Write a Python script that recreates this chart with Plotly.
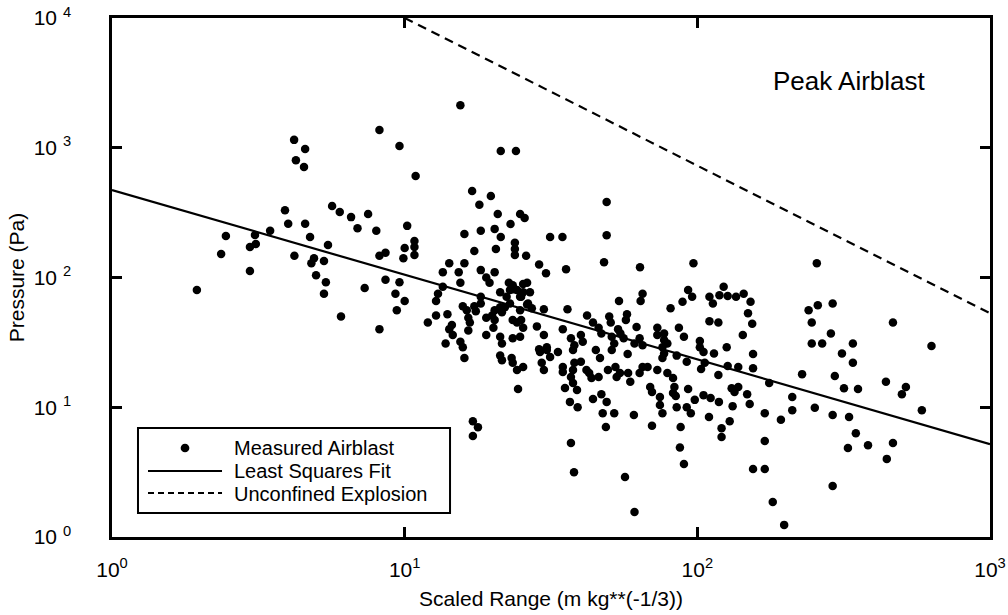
import plotly.graph_objects as go

# ---------------- data ----------------
# Measured airblast: scaled range (m kg^-1/3) and peak pressure (Pa), grouped by region
range_a = [8.2, 9.6, 4.19, 4.57, 4.25, 4.53, 3.9, 4.0, 4.57, 4.75, 3.47, 3.08, 3.1, 2.96, 2.45, 2.36,
           2.96, 1.95, 4.2, 4.9, 4.8, 5.3, 5.47, 4.98, 5.38, 5.3, 6.06, 5.65, 6.0, 6.56, 6.9, 7.5,
           8.0, 8.2, 8.6, 7.3, 8.6, 9.6, 9.3, 10.0, 9.4, 8.2]
press_a = [1370, 1030, 1150, 980, 800, 710, 330, 260, 260, 205, 229, 213, 181, 172, 209, 152,
           112, 80, 147, 141, 129, 134, 178, 104, 92, 75, 50, 355, 320, 292, 240, 309,
           229, 147, 155, 83, 96, 92, 75, 66, 56, 40]

range_b = [15.5, 10.9, 21.3, 24.0, 17.0, 19.7, 18.0, 20.8, 23.0, 24.8, 25.7, 10.2, 16.0, 18.2, 20.3,
           21.3, 10.8, 10.8, 10.8, 10.0, 9.9, 17.3, 20.5, 23.8, 23.8, 23.8, 26.0, 28.8, 30.4, 31.4,
           14.2, 16.0, 13.5, 15.3, 18.2, 20.3, 19.0]
press_b = [2130, 605, 944, 944, 464, 425, 363, 309, 258, 309, 288, 250, 216, 229, 237,
           205, 191, 172, 149, 169, 141, 160, 166, 185, 166, 149, 147, 126, 108, 205,
           129, 129, 110, 110, 114, 110, 100]

range_c = [15.5, 19.5, 21.2, 22.7, 23.6, 25.4, 26.8, 25.0, 26.2, 13.5, 13.0, 12.8, 12.0, 12.8, 14.0,
           14.5, 14.2, 15.8, 16.3, 16.5, 16.7, 17.3, 17.5, 18.2, 18.2, 19.0, 19.9, 20.3, 20.1, 20.3,
           21.2, 21.5, 22.0, 22.9, 22.3, 22.9, 23.4, 24.2, 24.8, 25.4, 26.2, 26.4, 27.2, 24.8, 23.4,
           24.2, 25.0, 25.4, 28.3, 29.9]
press_c = [91, 91, 77, 91, 81, 89, 77, 71, 62, 85, 75, 66, 45, 51, 52,
           43, 40, 60, 56, 49, 45, 60, 55, 71, 63, 49, 51, 47, 41, 56,
           59, 54, 59, 63, 71, 80, 87, 80, 71, 77, 91, 63, 58, 56, 47,
           45, 47, 41, 42, 57]

range_d = [14.6, 13.8, 15.5, 15.8, 16.0, 16.5, 19.0, 21.2, 21.5, 21.2, 21.5, 23.2, 23.4, 24.2, 25.4,
           24.4, 17.1, 17.8, 17.1, 24.8, 23.4, 29.9, 30.6, 28.8, 29.4, 29.9]
press_d = [36, 31, 32, 29, 24, 39, 36, 35, 31, 25, 23, 24, 22, 19.4, 20.4,
           13.8, 7.8, 7.0, 6.0, 35, 34, 36, 29, 28, 22, 19.4]

range_e = [49, 49, 48, 34.6, 35.6, 63.7, 65, 64, 54, 36, 42, 44, 46, 47, 50, 50.6, 57.5, 57, 62, 53.6,
           54.6, 56, 51, 52, 51, 63.5, 65, 61, 73, 77, 73, 77, 79, 76, 77, 76, 81, 89, 96, 93,
           86.5, 90, 92, 85]
press_e = [382, 212, 131, 205, 116, 120, 75, 66, 66, 57, 51, 45, 41, 37, 50, 45, 52, 47, 41.6, 40,
           37, 34, 35, 31, 27.6, 34, 30, 31, 41, 37, 36, 33, 31, 29, 26, 24, 58, 65, 71, 80,
           41, 35, 22.4, 25]

range_f = [34.7, 37, 38, 37.6, 40, 40.6, 30.6, 31.4, 29, 33.4, 45, 46.5, 57.8, 65, 63.5, 67.6, 34.7,
           34.7, 38, 37.6, 37, 40, 41.8, 43.5, 42.7, 46, 49.5, 52.5, 54.4, 53, 58, 59, 69, 70,
           74.5, 74.5, 73, 79, 82.6, 83.5, 82.6, 84.4, 35.3, 36.7, 39, 37.6, 38.8, 44, 47, 49,
           47.5, 52, 60.7, 48.7, 70, 85, 87.7, 87.2, 90, 37, 37.9, 56.6, 93, 92, 61, 76]
press_f = [40, 34, 30, 27.6, 36, 32, 27.6, 24.4, 26.7, 26.7, 27.6, 24, 25.7, 20.4, 18.4, 20.4, 20.4,
           18.7, 22, 19.4, 17.1, 22.4, 19.4, 16.8, 18.4, 17.1, 19.4, 20.4, 18.4, 17.1, 18.4, 15.7, 14.3, 13.1,
           12, 10.4, 19.4, 18.4, 16.8, 14.3, 12.9, 12.2, 14.1, 11, 10, 15.4, 13.6, 11.6, 12.6, 11,
           9, 9, 8.7, 7.05, 7.2, 10, 7.05, 4.9, 3.65, 5.3, 3.16, 2.9, 13.8, 10, 1.56, 9]

range_g = [97, 256, 110, 113, 123, 119, 127, 135.6, 144, 152, 149, 154, 143, 110, 118, 102, 102, 105,
           114, 126, 155, 155, 103, 106, 118, 127, 138, 176, 228, 295, 98, 105, 111, 118.5, 131, 138,
           134, 148, 151, 95, 109.6, 132, 129, 121, 121, 170, 193, 211, 211, 252, 170, 155, 170, 290,
           240, 258, 246, 246, 267, 286, 290]
press_g = [129, 129, 71, 63, 85, 73, 72, 71, 75, 65, 53, 44, 36, 46, 45, 32.4, 29, 26.7,
           26, 29, 25.7, 20, 19.7, 22, 17.7, 20.8, 20.4, 15.4, 18, 17.4, 11.4, 12.4, 11.8, 11, 14, 14.3,
           13.1, 12.6, 10.6, 9, 8.4, 10.2, 7.8, 6.9, 5.9, 9, 8, 12, 9.5, 9.9, 5.5, 3.34, 3.34, 8.7,
           56, 61, 45, 31, 31, 37, 63]

range_h = [466, 340, 312, 340, 317, 354, 441, 516, 500, 631, 585, 330, 348, 327, 383, 466, 444, 290, 181, 198]
press_h = [45, 31, 26, 22, 14, 13.8, 15.7, 14.3, 12.6, 29.7, 9.5, 8.4, 6.3, 4.85, 5.1, 5.3, 4.0, 2.47, 1.86, 1.24]

# Least squares fit line (end points)
fit_range = [1, 1000]
fit_press = [472, 5.2]

# Unconfined explosion line (end points)
unconf_range = [10, 1000]
unconf_press = [10000, 53]

x_tick_vals = [1, 10, 100, 1000]
x_tick_text = ["10<sup>0</sup>", "10<sup>1</sup>", "10<sup>2</sup>", "10<sup>3</sup>"]
y_tick_vals = [1, 10, 100, 1000, 10000]
y_tick_text = ["10 <sup>0</sup>", "10 <sup>1</sup>", "10 <sup>2</sup>", "10 <sup>3</sup>", "10 <sup>4</sup>"]

legend_labels = ["Measured Airblast", "Least Squares Fit", "Unconfined Explosion"]

# ---------------- figure ----------------
meas_x = range_a + range_b + range_c + range_d + range_e + range_f + range_g + range_h
meas_y = press_a + press_b + press_c + press_d + press_e + press_f + press_g + press_h

FONT = "Arial, Liberation Sans, Helvetica, sans-serif"

fig = go.Figure()
fig.add_trace(go.Scatter(x=meas_x, y=meas_y, mode="markers", name=legend_labels[0],
                         marker=dict(color="black", size=8.5, line=dict(width=0)), showlegend=False))
fig.add_trace(go.Scatter(x=fit_range, y=fit_press, mode="lines", name=legend_labels[1],
                         line=dict(color="black", width=2.2), showlegend=False))
fig.add_trace(go.Scatter(x=unconf_range, y=unconf_press, mode="lines", name=legend_labels[2],
                         line=dict(color="black", width=2.2, dash="9px,6px"), showlegend=False))

axis_common = dict(type="log", showline=True, linecolor="black", linewidth=2.5, mirror="ticks",
                   ticks="inside", ticklen=10, tickwidth=2.5, tickcolor="black",
                   showgrid=False, zeroline=False, automargin=False,
                   tickfont=dict(family=FONT, size=21, color="black"))

fig.update_xaxes(range=[0, 3], tickvals=x_tick_vals, ticktext=x_tick_text,
                 ticklabelstandoff=12,
                 title=dict(text="Scaled Range (m kg**(-1/3))", font=dict(family=FONT, size=21, color="black"),
                            standoff=12),
                 **axis_common)
fig.update_yaxes(range=[0, 4], tickvals=y_tick_vals, ticktext=y_tick_text,
                 ticklabelstandoff=34,
                 title=dict(text="Pressure (Pa)", font=dict(family=FONT, size=21, color="black"),
                            standoff=4),
                 **axis_common)

# custom legend box (paper coordinates)
shapes = [
    dict(type="rect", xref="paper", yref="paper", x0=0.0296, x1=0.385, y0=0.0462, y1=0.21,
         line=dict(color="black", width=2), fillcolor="white", layer="above"),
    dict(type="circle", xref="paper", yref="paper", x0=0.0782, x1=0.0881, y0=0.1633, y1=0.1798,
         line=dict(color="black", width=0), fillcolor="black", layer="above"),
    dict(type="line", xref="paper", yref="paper", x0=0.041, x1=0.1253, y0=0.1272, y1=0.1272,
         line=dict(color="black", width=2), layer="above"),
    dict(type="line", xref="paper", yref="paper", x0=0.041, x1=0.1253, y0=0.0848, y1=0.0848,
         line=dict(color="black", width=2, dash="6px,4px"), layer="above"),
]
annotations = [
    dict(text=legend_labels[0], xref="paper", yref="paper", x=0.1367, y=0.1716, xanchor="left",
         yanchor="middle", showarrow=False, font=dict(family=FONT, size=20, color="black")),
    dict(text=legend_labels[1], xref="paper", yref="paper", x=0.1367, y=0.1272, xanchor="left",
         yanchor="middle", showarrow=False, font=dict(family=FONT, size=20, color="black")),
    dict(text=legend_labels[2], xref="paper", yref="paper", x=0.1367, y=0.0828, xanchor="left",
         yanchor="middle", showarrow=False, font=dict(family=FONT, size=20, color="black")),
    dict(text="Peak Airblast", xref="paper", yref="paper", x=0.8405, y=0.878, xanchor="center",
         yanchor="middle", showarrow=False, font=dict(family=FONT, size=26, color="black")),
]

fig.update_layout(width=1008, height=615, margin=dict(l=112, r=18, t=18, b=78),
                  plot_bgcolor="white", paper_bgcolor="white",
                  font=dict(family=FONT, color="black"),
                  shapes=shapes, annotations=annotations, showlegend=False)

fig.write_html("out.html", config={"displayModeBar": False},
               post_script="document.body.style.margin='0';document.body.style.overflow='hidden';")
